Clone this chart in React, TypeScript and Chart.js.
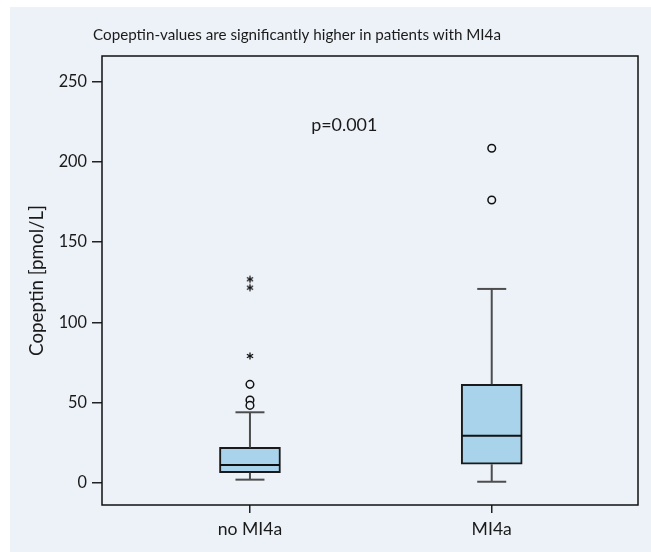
import React, { useEffect, useRef } from "react";
import { Chart, registerables } from "chart.js";

Chart.register(...registerables);

const categories = ["no MI4a", "MI4a"];
const lowerWhisker = [1.9, 0.6];
const q1 = [6.2, 11.5];
const median = [11.0, 29.3];
const q3 = [22.0, 61.3];
const upperWhisker = [43.9, 120.8];
// circle outliers
const outlierCat = [0, 0, 0, 1, 1];
const outlierVal = [61.3, 51.6, 48.2, 208.5, 176.2];
// extreme values (stars)
const extremeCat = [0, 0, 0];
const extremeVal = [126.8, 121.6, 79.0];
const yTicks = [0, 50, 100, 150, 200, 250];

const titleText = "Copeptin-values are significantly higher in patients with MI4a";
const pText = "p=0.001";
const pPos = { x: 0.39, y: 223 };

const BG = "rgb(237,242,249)";
const FILL = "rgb(168,211,234)";
const FONT = "Lato";

export default function App() {
  const ref = useRef<HTMLCanvasElement | null>(null);
  useEffect(() => {
    if (!ref.current) return;

    const star = document.createElement("canvas");
    star.width = 10;
    star.height = 10;
    const sc = star.getContext("2d")!;
    sc.strokeStyle = "#111";
    sc.lineWidth = 1.3;
    for (let k = 0; k < 3; k++) {
      const a = Math.PI / 2 + (k * Math.PI) / 3;
      const dx = Math.cos(a) * 3.6;
      const dy = Math.sin(a) * 3.6;
      sc.beginPath();
      sc.moveTo(5 - dx, 5 - dy);
      sc.lineTo(5 + dx, 5 + dy);
      sc.stroke();
    }

    const whiskerData: any[] = [];
    categories.forEach((_, i) => {
      whiskerData.push({ x: i, y: lowerWhisker[i] }, { x: i, y: q1[i] }, { x: i, y: null });
      whiskerData.push({ x: i, y: q3[i] }, { x: i, y: upperWhisker[i] }, { x: i, y: null });
    });

    const framePlugin = {
      id: "frameText",
      afterDraw(chart: any) {
        const { ctx, chartArea, scales } = chart;
        ctx.save();
        ctx.strokeStyle = "#111";
        ctx.lineWidth = 1.5;
        ctx.strokeRect(chartArea.left, chartArea.top, chartArea.right - chartArea.left, chartArea.bottom - chartArea.top);
        ctx.fillStyle = "#1a1a1a";
        ctx.textAlign = "center";
        ctx.textBaseline = "middle";
        ctx.font = `15.2px ${FONT}`;
        ctx.fillText(titleText, 287, 28);
        ctx.font = `17.9px ${FONT}`;
        ctx.fillText(pText, scales.x.getPixelForValue(pPos.x), scales.y.getPixelForValue(pPos.y));
        ctx.restore();
      },
    };

    const chart = new Chart(ref.current, {
      type: "bar",
      data: {
        datasets: [
          {
            type: "bar",
            data: categories.map((_, i) => ({ x: i, y: [q1[i], q3[i]] })) as any,
            backgroundColor: FILL,
            borderColor: "#1a1a1a",
            borderWidth: 2,
            borderSkipped: false,
            barThickness: 61,
            grouped: false,
            order: 5,
          } as any,
          {
            type: "line",
            data: whiskerData,
            borderColor: "#4d4d4d",
            borderWidth: 2,
            pointRadius: 0,
            spanGaps: false,
            order: 4,
          } as any,
          {
            type: "scatter",
            data: categories.map((_, i) => ({ x: i, y: median[i] })),
            pointStyle: "line",
            pointRadius: 30,
            borderColor: "#111",
            borderWidth: 2,
            order: 3,
          } as any,
          {
            type: "scatter",
            data: categories.flatMap((_, i) => [
              { x: i, y: lowerWhisker[i] },
              { x: i, y: upperWhisker[i] },
            ]),
            pointStyle: "line",
            pointRadius: 14.5,
            borderColor: "#4d4d4d",
            borderWidth: 2,
            order: 2,
          } as any,
          {
            type: "scatter",
            data: outlierVal.map((v, i) => ({ x: outlierCat[i], y: v })),
            pointStyle: "circle",
            pointRadius: 3.8,
            backgroundColor: BG,
            borderColor: "#111",
            borderWidth: 1.5,
            order: 1,
          } as any,
          {
            type: "scatter",
            data: extremeVal.map((v, i) => ({ x: extremeCat[i], y: v })),
            pointStyle: star,
            pointRadius: 5,
            order: 0,
          } as any,
        ],
      },
      options: {
        animation: false,
        responsive: false,
        maintainAspectRatio: false,
        layout: { autoPadding: false, padding: { left: 0, top: 49, right: 13, bottom: 0 } },
        plugins: { legend: { display: false }, tooltip: { enabled: false }, title: { display: false } },
        scales: {
          x: {
            type: "linear",
            offset: false,
            min: -0.612,
            max: 1.605,
            afterBuildTicks: (s: any) => {
              s.ticks = categories.map((_, i) => ({ value: i }));
            },
            afterFit: (s: any) => {
              s.height = 47;
              s.paddingLeft = 0;
              s.paddingRight = 0;
            },
            ticks: {
              callback: (v: any) => categories[v as number] ?? "",
              font: { family: FONT, size: 17.6 },
              color: "#1a1a1a",
              padding: 6,
              maxRotation: 0,
            },
            grid: { offset: false, drawOnChartArea: false, drawTicks: true, tickLength: 8, color: "#222", lineWidth: 1.5 },
            border: { display: false },
          },
          y: {
            type: "linear",
            min: -13.9,
            max: 266,
            afterBuildTicks: (s: any) => {
              s.ticks = yTicks.map((v) => ({ value: v }));
            },
            afterFit: (s: any) => {
              s.width = 92;
              s.paddingTop = 0;
              s.paddingBottom = 0;
            },
            ticks: {
              font: { family: FONT, size: 16.3 },
              color: "#1a1a1a",
              padding: 5,
            },
            grid: { drawOnChartArea: false, drawTicks: true, tickLength: 10, color: "#222", lineWidth: 1.5 },
            border: { display: false },
            title: {
              display: true,
              text: "Copeptin [pmol/L]",
              font: { family: FONT, size: 18.8 },
              color: "#1a1a1a",
              padding: { top: 16, bottom: 0 },
            },
          },
        },
      },
      plugins: [framePlugin],
    } as any);
    return () => chart.destroy();
  }, []);

  return (
    <div style={{ position: "absolute", left: 10, top: 7, width: 641, height: 545, background: BG }}>
      <canvas ref={ref} width={641} height={545} style={{ display: "block" }} />
    </div>
  );
}
